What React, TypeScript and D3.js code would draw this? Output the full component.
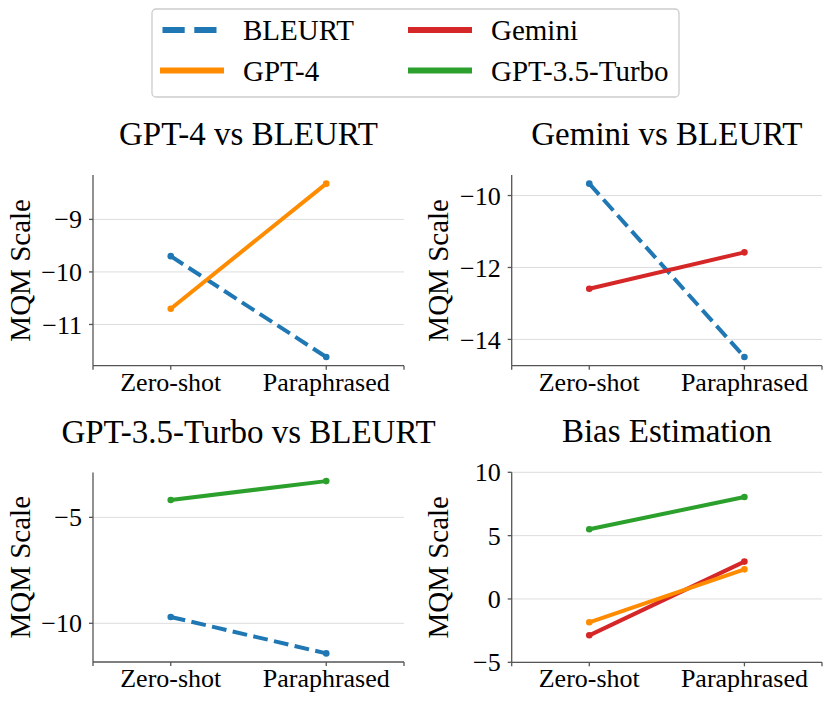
import React from "react"
import { scaleLinear, line } from "d3"

// data
const categories = ["Zero-shot", "Paraphrased"]

const gpt4VsBleurtGpt4 = [-10.7, -8.32]
const gpt4VsBleurtBleurt = [-9.7, -11.62]

const geminiVsBleurtGemini = [-12.59, -11.58]
const geminiVsBleurtBleurt = [-9.67, -14.49]

const gpt35VsBleurtGpt35 = [-4.18, -3.29]
const gpt35VsBleurtBleurt = [-9.7, -11.42]

const biasGpt35 = [5.5, 8.05]
const biasGemini = [-2.87, 2.95]
const biasGpt4 = [-1.84, 2.34]

const ticksGpt4 = [-11, -10, -9]
const ticksGemini = [-14, -12, -10]
const ticksGpt35 = [-10, -5]
const ticksBias = [-5, 0, 5, 10]

const colors = {
  BLEURT: "#1f77b4",
  "GPT-4": "#ff8c00",
  Gemini: "#d62728",
  "GPT-3.5-Turbo": "#2ca02c",
}

type Series = { name: keyof typeof colors; values: number[]; dashed?: boolean }

type PanelProps = {
  title: string
  series: Series[]
  ticks: number[]
  domain?: [number, number]
  left: number
  right: number
  top: number
  bottom: number
  labelX: number
}

const FONT = "'Liberation Serif', 'Times New Roman', serif"

const Panel = ({ title, series, ticks, domain, left, right, top, bottom, labelX }: PanelProps) => {
  // x scale: categories at 0 and 1, limits -0.5..1.5
  const xScale = scaleLinear().domain([-0.5, 1.5]).range([left, right])

  // y scale with matplotlib style 5% margins
  let yDomain = domain
  if (!yDomain) {
    const all = series.flatMap((s) => s.values)
    const lo = Math.min(...all)
    const hi = Math.max(...all)
    const pad = (hi - lo) * 0.05
    yDomain = [lo - pad, hi + pad]
  }
  const yScale = scaleLinear().domain(yDomain).range([bottom, top])

  const lineGen = line<number>()
    .x((_, i) => xScale(i))
    .y((d) => yScale(d))

  const fmt = (v: number) => (v < 0 ? `\u2212${Math.abs(v)}` : `${v}`)

  return (
    <g>
      {/* grid */}
      {ticks.map((t) => (
        <line key={`g${t}`} x1={left} x2={right} y1={yScale(t)} y2={yScale(t)} stroke="#dddddd" strokeWidth={1} />
      ))}

      {/* lines */}
      {series.map((s) => (
        <g key={s.name}>
          <path
            d={lineGen(s.values) ?? ""}
            fill="none"
            stroke={colors[s.name]}
            strokeWidth={4}
            strokeDasharray={s.dashed ? "14.8,6.4" : undefined}
          />
          {s.values.map((v, i) => (
            <circle key={i} cx={xScale(i)} cy={yScale(v)} r={3.3} fill={colors[s.name]} />
          ))}
        </g>
      ))}

      {/* spines */}
      <line x1={left} x2={left} y1={top} y2={bottom} stroke="#555" strokeWidth={1.3} />
      <line x1={left} x2={right} y1={bottom} y2={bottom} stroke="#555" strokeWidth={1.3} />

      {/* y ticks */}
      {ticks.map((t) => (
        <g key={`t${t}`}>
          <line x1={left - 4} x2={left} y1={yScale(t)} y2={yScale(t)} stroke="#555" strokeWidth={1.3} />
          <text x={left - 11} y={yScale(t)} dy="0.35em" textAnchor="end" fontSize={26} fontFamily={FONT}>
            {fmt(t)}
          </text>
        </g>
      ))}

      {/* x ticks */}
      {[-0.5, 0, 1, 1.5].map((t) => (
        <line key={`x${t}`} x1={xScale(t)} x2={xScale(t)} y1={bottom} y2={bottom + 4} stroke="#555" strokeWidth={1.3} />
      ))}
      {categories.map((c, i) => (
        <text key={c} x={xScale(i)} y={bottom + 25} textAnchor="middle" fontSize={26} fontFamily={FONT}>
          {c}
        </text>
      ))}

      {/* y label */}
      <text
        transform={`translate(${labelX},${(top + bottom) / 2}) rotate(-90)`}
        dy="0.35em"
        textAnchor="middle"
        fontSize={29}
        fontFamily={FONT}
      >
        MQM Scale
      </text>

      {/* title */}
      <text x={(left + right) / 2} y={top - 30} textAnchor="middle" fontSize={33} fontFamily={FONT}>
        {title}
      </text>
    </g>
  )
}

const legendItems: Series[] = [
  { name: "BLEURT", values: [], dashed: true },
  { name: "GPT-4", values: [] },
  { name: "Gemini", values: [] },
  { name: "GPT-3.5-Turbo", values: [] },
]

const App = () => {
  return (
    <svg width={831} height={703} style={{ position: "absolute", left: 0, top: 0, background: "white" }}>
      {/* legend */}
      <rect x={152} y={9} width={527} height={88} rx={4} fill="white" stroke="#cccccc" strokeWidth={1.3} />
      {legendItems.map((item, i) => {
        const col = Math.floor(i / 2)
        const row = i % 2
        const x0 = col === 0 ? 160 : 408
        const y0 = row === 0 ? 30 : 70.5
        return (
          <g key={item.name}>
            <line
              x1={x0 + (item.dashed ? 2.5 : 0)}
              x2={x0 + 64}
              y1={y0}
              y2={y0}
              stroke={colors[item.name]}
              strokeWidth={6}
              strokeDasharray={item.dashed ? "22.2,9.6" : undefined}
            />
            <text x={x0 + 83} y={y0} dy="0.35em" fontSize={29} fontFamily={FONT}>
              {item.name}
            </text>
          </g>
        )
      })}

      <Panel
        title="GPT-4 vs BLEURT"
        series={[
          { name: "BLEURT", values: gpt4VsBleurtBleurt, dashed: true },
          { name: "GPT-4", values: gpt4VsBleurtGpt4 },
        ]}
        ticks={ticksGpt4}
        left={93}
        right={404}
        top={175}
        bottom={365.7}
        labelX={19.5}
      />
      <Panel
        title="Gemini vs BLEURT"
        series={[
          { name: "BLEURT", values: geminiVsBleurtBleurt, dashed: true },
          { name: "Gemini", values: geminiVsBleurtGemini },
        ]}
        ticks={ticksGemini}
        left={511.7}
        right={822}
        top={175}
        bottom={365.7}
        labelX={438}
      />
      <Panel
        title="GPT-3.5-Turbo vs BLEURT"
        series={[
          { name: "BLEURT", values: gpt35VsBleurtBleurt, dashed: true },
          { name: "GPT-3.5-Turbo", values: gpt35VsBleurtGpt35 },
        ]}
        ticks={ticksGpt35}
        left={93}
        right={404}
        top={472.5}
        bottom={662}
        labelX={19.5}
      />
      <Panel
        title="Bias Estimation"
        series={[
          { name: "GPT-3.5-Turbo", values: biasGpt35 },
          { name: "Gemini", values: biasGemini },
          { name: "GPT-4", values: biasGpt4 },
        ]}
        ticks={ticksBias}
        domain={[-5, 10]}
        left={511.7}
        right={822}
        top={472.3}
        bottom={662.3}
        labelX={438}
      />
    </svg>
  )
}

export default App
